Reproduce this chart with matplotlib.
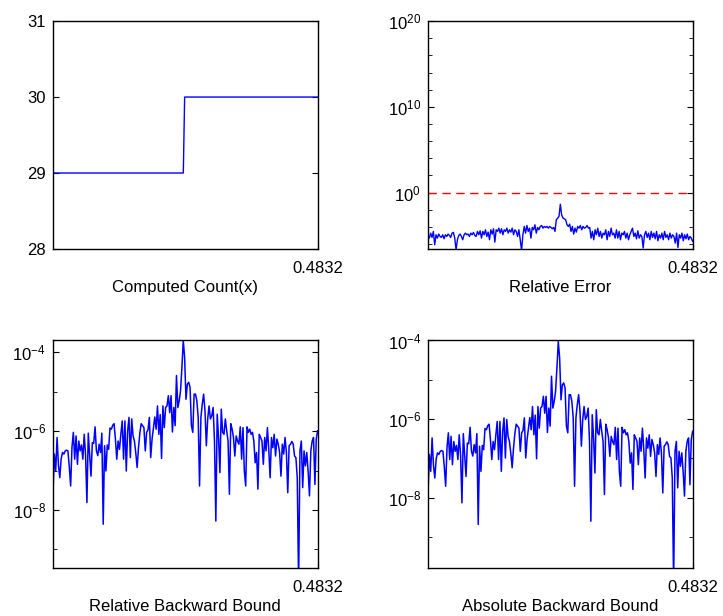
import matplotlib
matplotlib.use("Agg")
import matplotlib.pyplot as plt
import numpy as np
from matplotlib.ticker import FixedLocator, NullFormatter, FuncFormatter

plt.rcParams["font.family"] = ["Liberation Sans", "DejaVu Sans"]
plt.rcParams["mathtext.fontset"] = "custom"
plt.rcParams["mathtext.rm"] = "Liberation Sans"
plt.rcParams["mathtext.it"] = "Liberation Sans:italic"
plt.rcParams["mathtext.bf"] = "Liberation Sans:bold"

# --- data (log panels are stored as exponents) ---
x_end_label = "0.4832"

# computed count: levels and how many samples sit on each level
count_levels = [29, 30]
count_runs = [99, 101]

# relative error, log10
rel_err_exp = [
    -4.92, -5.31, -4.73, -5.23, -4.53, -6.09, -4.92, -5.31, -4.84, -5.12,
    -5.23, -4.92, -5.39, -4.92, -5.12, -4.84, -5.00, -5.23, -4.73, -4.65,
    -5.31, -6.67, -5.50, -5.00, -4.84, -5.12, -5.50, -4.92, -4.73, -4.92,
    -4.84, -5.12, -4.73, -4.92, -4.65, -5.00, -5.12, -4.53, -4.92, -4.46,
    -5.31, -4.53, -4.92, -4.34, -5.12, -4.61, -5.50, -4.34, -4.84, -4.22,
    -5.78, -4.34, -4.53, -4.15, -4.73, -4.22, -4.92, -4.34, -4.53, -4.15,
    -4.73, -4.34, -4.61, -4.15, -4.92, -4.34, -4.53, -5.12, -4.34, -5.50,
    -6.78, -4.92, -3.95, -4.73, -3.84, -4.53, -4.15, -5.31, -4.07, -4.34,
    -3.76, -4.73, -4.07, -4.34, -3.95, -3.84, -4.15, -3.95, -4.07, -3.95,
    -4.15, -3.95, -4.07, -4.22, -4.07, -4.53, -3.18, -2.98, -2.79, -1.36,
    -2.60, -2.98, -3.06, -3.18, -3.76, -3.95, -3.68, -4.53, -3.95, -4.84,
    -4.15, -4.61, -3.95, -4.15, -3.84, -4.34, -3.95, -4.15, -4.07, -3.84,
    -4.15, -4.07, -5.31, -4.53, -5.50, -4.34, -4.92, -4.15, -5.12, -4.53,
    -5.31, -4.73, -4.92, -4.34, -5.50, -4.53, -5.12, -4.15, -4.92, -4.73,
    -5.31, -4.34, -5.31, -4.53, -5.50, -4.73, -4.92, -4.53, -5.31, -4.73,
    -5.50, -4.92, -4.53, -4.15, -5.12, -4.73, -5.39, -4.46, -5.31, -4.92,
    -5.12, -6.47, -4.92, -4.53, -5.23, -4.73, -5.50, -4.53, -5.23, -4.73,
    -5.39, -4.53, -5.62, -4.92, -5.31, -4.73, -5.50, -4.53, -5.23, -4.92,
    -5.50, -4.73, -5.31, -4.92, -5.12, -5.89, -4.73, -6.40, -4.92, -5.31,
    -4.73, -5.62, -4.92, -5.39, -4.84, -5.50, -5.12, -5.31, -5.70,
]

# relative backward bound, log10
rel_bound_exp = [
    -7.56, -6.58, -7.01, -6.16, -6.85, -7.18, -6.70, -6.54, -6.58, -6.50,
    -6.48, -6.50, -6.90, -7.39, -6.40, -6.03, -6.71, -6.12, -6.84, -6.25,
    -6.50, -6.35, -6.71, -6.08, -6.60, -7.81, -6.05, -6.60, -7.14, -6.29,
    -6.31, -5.89, -6.50, -6.62, -6.33, -6.54, -6.05, -8.36, -6.37, -7.01,
    -6.35, -6.46, -5.92, -5.95, -5.85, -5.81, -6.20, -6.71, -6.25, -6.46,
    -6.08, -5.74, -6.71, -5.74, -7.01, -6.00, -5.65, -6.67, -5.69, -6.12,
    -6.25, -6.55, -6.92, -6.42, -6.05, -5.81,
    -5.86, -5.91, -6.50, -6.03, -5.97, -5.65, -6.67, -6.20, -5.91, -5.64,
    -5.95, -5.36, -6.08, -5.58, -6.69, -5.36, -5.91, -5.40, -5.36, -5.10,
    -5.53, -5.10, -6.02, -5.40, -5.86, -4.59, -5.40, -5.23, -4.97, -4.38,
    -3.70,
    -4.13, -5.19, -4.81, -4.76, -4.89, -5.86, -6.03, -5.06, -5.06, -5.23,
    -5.65, -7.39, -5.65, -5.31, -5.06, -5.48, -6.37, -5.69, -5.36, -5.69,
    -5.61, -5.40, -6.25, -8.28, -5.57, -6.16, -7.05, -5.44, -6.03, -6.08,
    -5.69, -5.99, -6.25,
    -7.60, -5.81, -5.95, -6.16, -6.63, -6.12, -6.25, -6.33, -5.89, -6.71,
    -5.91, -7.01, -7.39, -5.89, -6.03, -5.95, -6.08, -6.03, -6.25, -6.80,
    -6.54, -7.47, -6.08, -6.16, -6.25, -6.84, -6.16, -6.50, -5.91, -6.46,
    -7.18, -6.16, -6.42, -6.08, -6.63, -6.20, -6.33, -6.54, -7.14, -6.33,
    -6.58, -6.16, -6.54, -7.56, -6.37, -6.33, -6.26, -6.33, -6.63, -6.67,
    -7.18, -9.90, -6.50, -6.25, -7.43, -6.50, -6.88, -6.54, -7.01, -7.64,
    -6.50, -6.25, -6.16, -7.35, -6.20, -5.99,
]

# absolute backward bound, log10
abs_bound_exp = [
    -7.88, -6.90, -7.33, -6.48, -7.17, -7.50, -7.02, -6.86, -6.90, -6.82,
    -6.80, -6.82, -7.22, -7.71, -6.72, -6.35, -7.03, -6.44, -7.16, -6.57,
    -6.82, -6.67, -7.03, -6.40, -6.92, -8.13, -6.37, -6.92, -7.46, -6.61,
    -6.63, -6.21, -6.82, -6.94, -6.65, -6.86, -6.37, -8.68, -6.69, -7.33,
    -6.67, -6.78, -6.24, -6.27, -6.17, -6.13, -6.52, -7.03, -6.57, -6.78,
    -6.40, -6.06, -7.03, -6.06, -7.33, -6.32, -5.97, -6.99, -6.01, -6.44,
    -6.57, -6.87, -7.24, -6.74, -6.37, -6.13,
    -6.18, -6.23, -6.82, -6.35, -6.29, -5.97, -6.99, -6.52, -6.23, -5.96,
    -6.27, -5.68, -6.40, -5.90, -7.01, -5.68, -6.23, -5.72, -5.68, -5.42,
    -5.85, -5.42, -6.34, -5.72, -6.18, -4.91, -5.72, -5.55, -5.29, -4.70,
    -4.02,
    -4.45, -5.51, -5.13, -5.08, -5.21, -6.18, -6.35, -5.38, -5.38, -5.55,
    -5.97, -7.71, -5.97, -5.63, -5.38, -5.80, -6.69, -6.01, -5.68, -6.01,
    -5.93, -5.72, -6.57, -8.60, -5.89, -6.48, -7.37, -5.76, -6.35, -6.40,
    -6.01, -6.31, -6.57,
    -7.92, -6.13, -6.27, -6.48, -6.95, -6.44, -6.57, -6.65, -6.21, -7.03,
    -6.23, -7.33, -7.71, -6.21, -6.35, -6.27, -6.40, -6.35, -6.57, -7.12,
    -6.86, -7.79, -6.40, -6.48, -6.57, -7.16, -6.48, -6.82, -6.23, -6.78,
    -7.50, -6.48, -6.74, -6.40, -6.95, -6.52, -6.65, -6.86, -7.46, -6.65,
    -6.90, -6.48, -6.86, -7.88, -6.69, -6.65, -6.58, -6.65, -6.95, -6.99,
    -7.50, -10.22, -6.82, -6.57, -7.75, -6.82, -7.20, -6.86, -7.33, -7.96,
    -6.82, -6.57, -6.48, -7.67, -6.52, -6.31,
]

titles = ["Computed Count(x)", "Relative Error",
          "Relative Backward Bound", "Absolute Backward Bound"]

BLUE = "#0000ff"
FS = 12


def pow10_fmt(v, pos):
    return r"$\mathdefault{10^{%d}}$" % int(round(np.log10(v)))


def style(ax, n, title):
    ax.set_xlim(0, n - 1)
    ax.set_xticks([n - 1])
    ax.set_xticklabels([x_end_label])
    ax.tick_params(direction="in", top=True, right=True, length=4,
                   labelsize=FS, pad=5)
    ax.tick_params(axis="x", pad=8.5)
    ax.tick_params(which="minor", direction="in", right=True, length=3)
    ax.set_xlabel(title, fontsize=FS, labelpad=3)
    for s in ax.spines.values():
        s.set_linewidth(1.0)


def main():
    fig = plt.figure(figsize=(7.23, 6.16), dpi=100)
    left1, left2, w = 0.0733, 0.592, 0.366
    top_b, bot_b, h = 0.5958, 0.0779, 0.370

    # computed count
    ax1 = fig.add_axes([left1, top_b, w, h])
    count = np.repeat(count_levels, count_runs)
    ax1.plot(np.arange(len(count)), count, color=BLUE, lw=1.0)
    ax1.set_ylim(28, 31)
    ax1.set_yticks([28, 29, 30, 31])
    style(ax1, len(count), titles[0])

    # relative error
    ax2 = fig.add_axes([left2, top_b, w, h])
    y2 = 10.0 ** np.array(rel_err_exp)
    ax2.plot(np.arange(len(y2)), y2, color=BLUE, lw=1.0)
    ax2.axhline(1.0, color="red", lw=1.0, ls=(0, (6, 4)))
    ax2.set_yscale("log")
    ax2.set_ylim(10 ** -6.58, 1e20)
    ax2.yaxis.set_major_locator(FixedLocator([1e0, 1e10, 1e20]))
    ax2.yaxis.set_major_formatter(FuncFormatter(pow10_fmt))
    ax2.yaxis.set_minor_locator(FixedLocator(10.0 ** np.arange(-6, 21, 2)))
    ax2.yaxis.set_minor_formatter(NullFormatter())
    style(ax2, len(y2), titles[1])

    # backward bounds
    for left, data, lims, title in [
        (left1, rel_bound_exp, (-9.47, -3.69), titles[2]),
        (left2, abs_bound_exp, (-9.79, -3.99), titles[3]),
    ]:
        ax = fig.add_axes([left, bot_b, w, h])
        y = 10.0 ** np.array(data)
        ax.plot(np.arange(len(y)), y, color=BLUE, lw=1.1)
        ax.set_yscale("log")
        ax.set_ylim(10 ** lims[0], 10 ** lims[1])
        ax.yaxis.set_major_locator(FixedLocator([1e-8, 1e-6, 1e-4]))
        ax.yaxis.set_major_formatter(FuncFormatter(pow10_fmt))
        ax.yaxis.set_minor_locator(FixedLocator([1e-9, 1e-7, 1e-5]))
        ax.yaxis.set_minor_formatter(NullFormatter())
        style(ax, len(y), title)

    fig.savefig("out.png", dpi=100)


if __name__ == "__main__":
    main()
